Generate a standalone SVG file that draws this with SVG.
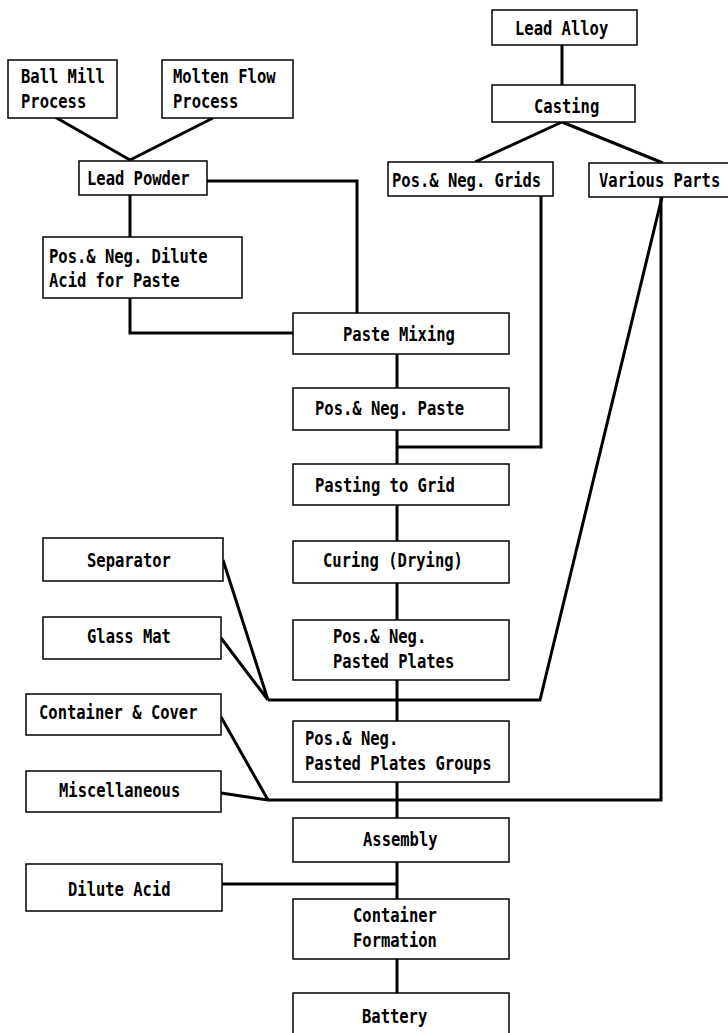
<svg xmlns="http://www.w3.org/2000/svg" width="728" height="1033" viewBox="0 0 728 1033">
<style>
.box{fill:#fff;stroke:#000;stroke-width:1.5}
.t{font-family:"DejaVu Sans Mono","Liberation Mono",monospace;font-weight:bold;font-size:15.5px;fill:#000}
.c{fill:none;stroke:#000;stroke-width:3;stroke-linejoin:miter}
</style>
<rect width="728" height="1033" fill="#fff"/>
<g id="connectors">
<path class="c" d="M55,117 L130,160 M213,118 L130,160"/>
<path class="c" d="M562,45 L562,85"/>
<path class="c" d="M562,122 L475,162 M562,122 L663,163"/>
<path class="c" d="M207,181 L357,181 L357,313"/>
<path class="c" d="M130,194 L130,237"/>
<path class="c" d="M130,298 L130,333 L293,333"/>
<path class="c" d="M397,354 L397,388 M397,430 L397,464 M397,505 L397,541 M397,583 L397,620 M397,680 L397,721 M397,782 L397,818 M397,862 L397,899 M397,959 L397,993"/>
<path class="c" d="M541,196 L541,447 L397,447"/>
<path class="c" d="M662,197 L540,700 L268,700"/>
<path class="c" d="M661,197 L661,800 L268,800"/>
<path class="c" d="M223,560 L268,700 M221,638 L268,700"/>
<path class="c" d="M221,717 L268,800 M221,793 L268,800"/>
<path class="c" d="M222,884 L397,884"/>
</g>
<g id="ballmill"><rect class="box" x="8" y="60" width="109" height="58"/><text class="t" transform="translate(21,83) scale(1,1.25)">Ball Mill</text><text class="t" transform="translate(21,108) scale(1,1.25)">Process</text></g>
<g id="moltenflow"><rect class="box" x="162" y="60" width="131" height="58"/><text class="t" transform="translate(173,83) scale(1,1.25)">Molten Flow</text><text class="t" transform="translate(173,108) scale(1,1.25)">Process</text></g>
<g id="leadpowder"><rect class="box" x="79" y="161" width="128" height="34"/><text class="t" transform="translate(87,185) scale(1,1.25)">Lead Powder</text></g>
<g id="diluteacidpaste"><rect class="box" x="43" y="237" width="199" height="61"/><text class="t" transform="translate(49,263) scale(1,1.25)">Pos.&amp; Neg. Dilute</text><text class="t" transform="translate(49,287) scale(1,1.25)">Acid for Paste</text></g>
<g id="leadalloy"><rect class="box" x="492" y="10" width="145" height="35"/><text class="t" transform="translate(515,35) scale(1,1.25)">Lead Alloy</text></g>
<g id="casting"><rect class="box" x="492" y="85" width="143" height="37"/><text class="t" transform="translate(534,113) scale(1,1.25)">Casting</text></g>
<g id="grids"><rect class="box" x="388" y="162" width="165" height="34"/><text class="t" transform="translate(392,187) scale(1,1.25)">Pos.&amp; Neg. Grids</text></g>
<g id="variousparts"><rect class="box" x="589" y="163" width="141" height="34"/><text class="t" transform="translate(599,187) scale(1,1.25)">Various Parts</text></g>
<g id="pastemixing"><rect class="box" x="293" y="313" width="216" height="41"/><text class="t" transform="translate(343,341) scale(1,1.25)">Paste Mixing</text></g>
<g id="paste"><rect class="box" x="293" y="388" width="216" height="42"/><text class="t" transform="translate(315,415) scale(1,1.25)">Pos.&amp; Neg. Paste</text></g>
<g id="pasting"><rect class="box" x="293" y="464" width="216" height="41"/><text class="t" transform="translate(315,492) scale(1,1.25)">Pasting to Grid</text></g>
<g id="separator"><rect class="box" x="43" y="538" width="180" height="43"/><text class="t" transform="translate(87,567) scale(1,1.25)">Separator</text></g>
<g id="curing"><rect class="box" x="293" y="541" width="216" height="42"/><text class="t" transform="translate(323,567) scale(1,1.25)">Curing (Drying)</text></g>
<g id="glassmat"><rect class="box" x="43" y="617" width="178" height="42"/><text class="t" transform="translate(87,643) scale(1,1.25)">Glass Mat</text></g>
<g id="pastedplates"><rect class="box" x="293" y="620" width="216" height="60"/><text class="t" transform="translate(333,643) scale(1,1.25)">Pos.&amp; Neg.</text><text class="t" transform="translate(333,668) scale(1,1.25)">Pasted Plates</text></g>
<g id="containercover"><rect class="box" x="26" y="694" width="195" height="41"/><text class="t" transform="translate(39,719) scale(1,1.25)">Container &amp; Cover</text></g>
<g id="platesgroups"><rect class="box" x="293" y="721" width="216" height="61"/><text class="t" transform="translate(305,745) scale(1,1.25)">Pos.&amp; Neg.</text><text class="t" transform="translate(305,770) scale(1,1.25)">Pasted Plates Groups</text></g>
<g id="misc"><rect class="box" x="26" y="771" width="195" height="41"/><text class="t" transform="translate(59,797) scale(1,1.25)">Miscellaneous</text></g>
<g id="assembly"><rect class="box" x="293" y="818" width="216" height="44"/><text class="t" transform="translate(363,846) scale(1,1.25)">Assembly</text></g>
<g id="diluteacid"><rect class="box" x="26" y="864" width="196" height="47"/><text class="t" transform="translate(68,896) scale(1,1.25)">Dilute Acid</text></g>
<g id="formation"><rect class="box" x="293" y="899" width="216" height="60"/><text class="t" transform="translate(353,922) scale(1,1.25)">Container</text><text class="t" transform="translate(353,947) scale(1,1.25)">Formation</text></g>
<g id="battery"><rect class="box" x="293" y="993" width="216" height="50"/><text class="t" transform="translate(362,1023) scale(1,1.25)">Battery</text></g>
</svg>
